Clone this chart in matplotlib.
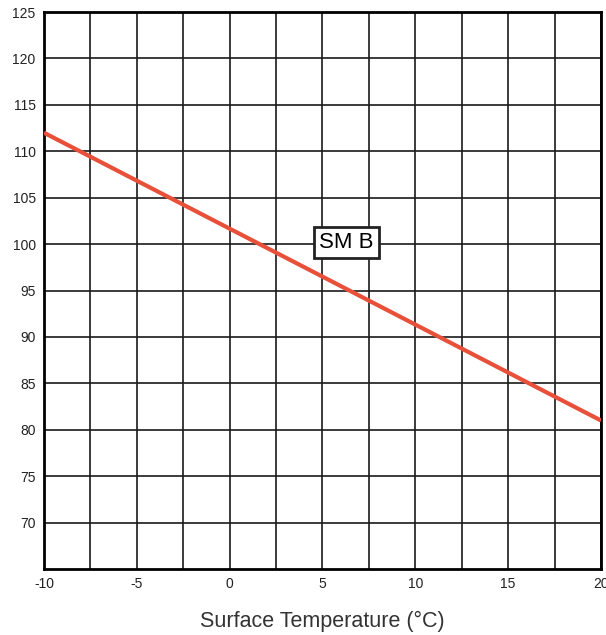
import matplotlib
matplotlib.use("Agg")
import matplotlib.pyplot as plt
import numpy as np

plt.rcParams['font.family'] = ['Liberation Sans', 'DejaVu Sans']

# data
temp = [-10, 20]
value = [112, 81]
xticks = [-10, -5, 0, 5, 10, 15, 20]
yticks = [70, 75, 80, 85, 90, 95, 100, 105, 110, 115, 120, 125]
label_pos = (6.3, 100.2)
label_text = "SM B"

fig = plt.figure(figsize=(6.06, 6.35), dpi=100)
ax = fig.add_axes([0.0726, 0.1039, 0.9191, 0.8771])

ax.set_xlim(-10, 20)
ax.set_ylim(65, 125)

ax.set_xticks(xticks)
ax.set_xticks(np.arange(-7.5, 20, 5), minor=True)
ax.set_yticks(yticks)
ax.set_xticklabels([str(t) for t in xticks])
ax.set_yticklabels([str(t) for t in yticks])

ax.grid(True, which='both', color='#1a1a1a', linewidth=1.2)
ax.set_axisbelow(True)
ax.tick_params(which='both', length=0, labelsize=10, colors='#222222')
ax.tick_params(axis='y', pad=6)
ax.tick_params(axis='x', pad=6)
for s in ax.spines.values():
    s.set_linewidth(2)
    s.set_color('black')

ax.plot(temp, value, color='#e8503a', linewidth=3, solid_capstyle='butt', zorder=3, clip_on=True)

ax.text(label_pos[0], label_pos[1], label_text, fontsize=16, ha='center', va='center', zorder=4,
        bbox=dict(boxstyle='square,pad=0.22', facecolor='white', edgecolor='#222222', linewidth=2))

ax.set_xlabel("Surface Temperature (°C)", fontsize=15.5, color='#333333', labelpad=14)

fig.savefig("out.png", dpi=100)
